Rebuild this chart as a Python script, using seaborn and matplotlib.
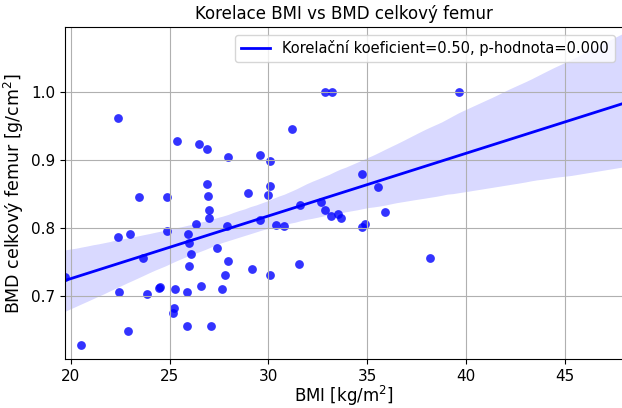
import matplotlib
matplotlib.use("Agg")
import matplotlib.pyplot as plt
import numpy as np
import seaborn as sns

# BMI [kg/m2] and BMD total femur [g/cm2]
bmi = [
    19.72, 20.49, 22.40, 22.39, 22.42, 22.88, 22.98, 23.45, 23.67, 23.87,
    24.45, 24.50, 24.88, 24.88, 25.22, 25.18, 25.25, 25.35, 25.90, 25.90,
    25.94, 25.99, 26.00, 26.08, 26.36, 26.48, 26.58, 26.87, 26.87, 26.95,
    27.00, 27.00, 27.10, 27.39, 27.64, 27.81, 27.88, 27.98, 27.98, 28.96,
    29.17, 29.58, 29.60, 29.97, 30.07, 30.07, 30.07, 30.37, 30.80, 31.18,
    31.55, 31.58, 32.68, 32.85, 32.85, 33.24, 33.15, 33.53, 33.70, 34.76,
    34.75, 34.90, 35.57, 35.90, 38.18, 39.66,
]
bmd = [
    0.728, 0.628, 0.962, 0.786, 0.705, 0.648, 0.791, 0.846, 0.756, 0.702,
    0.712, 0.713, 0.846, 0.795, 0.682, 0.675, 0.710, 0.928, 0.705, 0.656,
    0.791, 0.778, 0.744, 0.762, 0.806, 0.923, 0.715, 0.916, 0.864, 0.847,
    0.826, 0.815, 0.656, 0.770, 0.710, 0.730, 0.803, 0.904, 0.751, 0.852,
    0.739, 0.907, 0.812, 0.849, 0.898, 0.861, 0.730, 0.804, 0.803, 0.945,
    0.747, 0.834, 0.838, 1.000, 0.826, 1.000, 0.817, 0.820, 0.814, 0.879,
    0.801, 0.806, 0.860, 0.824, 0.756, 1.000,
]

r_value = 0.50
p_value = 0.000
legend_label = f"Korelační koeficient={r_value:.2f}, p-hodnota={p_value:.3f}"

fig = plt.figure(figsize=(6.22, 4.08), dpi=100)
ax = fig.add_axes([0.105, 0.12, 0.895, 0.813])

x_lim = (19.72, 47.9)
ax.set_xlim(x_lim)

sns.regplot(
    x=np.array(bmi),
    y=np.array(bmd),
    ax=ax,
    color="blue",
    truncate=False,
    seed=0,
    scatter_kws={"s": 40, "alpha": 0.8, "linewidths": 0},
    line_kws={"linewidth": 2, "label": legend_label},
)

ax.set_xlim(x_lim)
ax.set_ylim(0.607, 1.095)
ax.set_yticks([0.7, 0.8, 0.9, 1.0])
ax.grid(True, color="#b0b0b0", linewidth=0.8)
ax.spines["right"].set_visible(False)

ax.set_title("Korelace BMI vs BMD celkový femur", fontsize=12)
ax.set_xlabel("BMI [kg/m$^2$]", fontsize=12, labelpad=0)
ax.set_ylabel("BMD celkový femur [g/cm$^2$]", fontsize=12.5)
ax.tick_params(labelsize=11)
ax.legend(loc="upper right", fontsize=10.5)

fig.savefig("out.png", dpi=100)
